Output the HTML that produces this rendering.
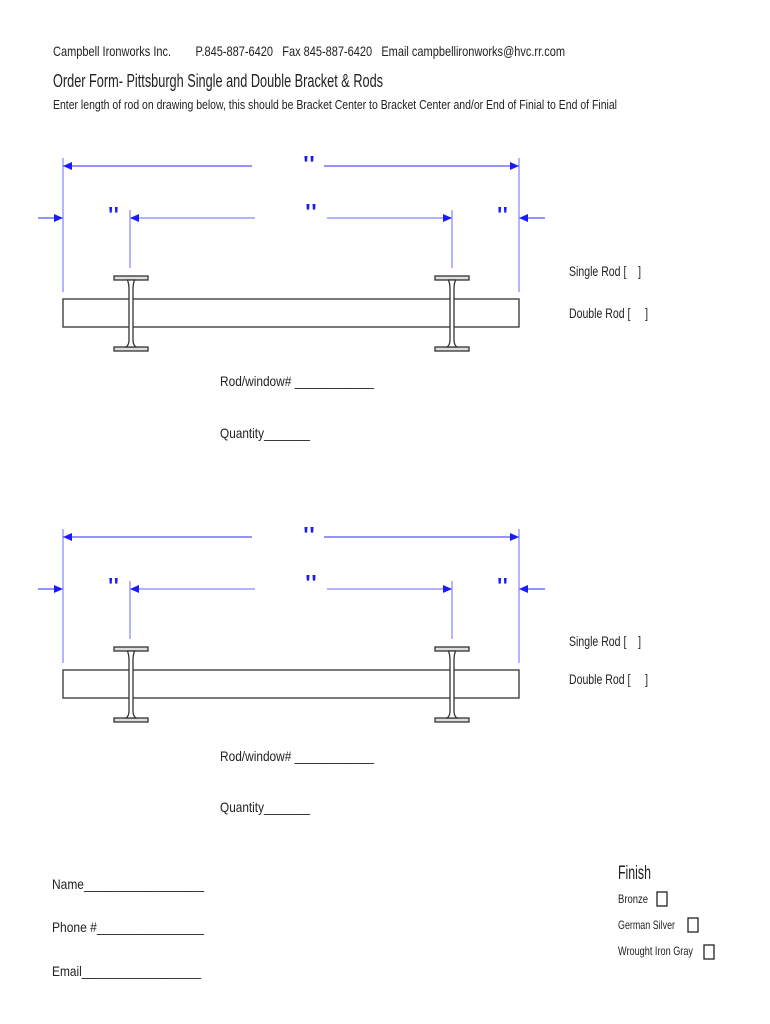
<!DOCTYPE html>
<html><head><meta charset="utf-8"><style>
html,body{margin:0;padding:0;background:#fff;}
svg{display:block;}
text{font-family:"Liberation Sans",sans-serif;fill:#222;white-space:pre;}
.b{fill:#1a1aff;font-size:26px;}
</style></head><body>
<svg width="770" height="1024" viewBox="0 0 770 1024" xmlns="http://www.w3.org/2000/svg" xml:space="preserve">
<defs>
<g id="dia">
  <g stroke="#6a6aff" stroke-width="1" fill="none">
    <line x1="63" y1="158" x2="63" y2="292"/>
    <line x1="519" y1="158" x2="519" y2="292"/>
    <line x1="130" y1="210" x2="130" y2="268"/>
    <line x1="452" y1="210" x2="452" y2="268"/>
    <line x1="63" y1="166" x2="252" y2="166" stroke="#2a2aff"/>
    <line x1="324" y1="166" x2="519" y2="166" stroke="#2a2aff"/>
    <line x1="130" y1="218" x2="255" y2="218" stroke="#9a9aff" stroke-width="1.5"/>
    <line x1="327" y1="218" x2="452" y2="218" stroke="#9a9aff" stroke-width="1.5"/>
    <line x1="38" y1="218" x2="58" y2="218" stroke="#2a2aff"/>
    <line x1="524" y1="218" x2="545" y2="218" stroke="#2a2aff"/>
  </g>
  <g fill="#1a1aff">
    <polygon points="63,166 72,162 72,170"/>
    <polygon points="519,166 510,162 510,170"/>
    <polygon points="130,218 139,214 139,222"/>
    <polygon points="452,218 443,214 443,222"/>
    <polygon points="63,218 54,214 54,222"/>
    <polygon points="519,218 528,214 528,222"/>
  </g>
  <text class="b" x="303" y="174" textLength="12" lengthAdjust="spacingAndGlyphs">"</text>
  <text class="b" x="108" y="225" textLength="11" lengthAdjust="spacingAndGlyphs">"</text>
  <text class="b" x="305" y="222" textLength="12" lengthAdjust="spacingAndGlyphs">"</text>
  <text class="b" x="497" y="225" textLength="11" lengthAdjust="spacingAndGlyphs">"</text>
  <rect x="63" y="299" width="456" height="28" fill="#fff" stroke="#333" stroke-width="1.3"/>
  <g fill="#ddd" stroke="#333" stroke-width="1.3">
    <rect x="114" y="276" width="34" height="4"/>
    <rect x="114" y="347" width="34" height="4"/>
    <path d="M127.5,280 Q129,284 129,288 L129,340 Q129,345 126,347 L136,347 Q133,345 133,340 L133,288 Q133,284 134.5,280 Z" fill="#fff"/>
    <rect x="435" y="276" width="34" height="4"/>
    <rect x="435" y="347" width="34" height="4"/>
    <path d="M448.5,280 Q450,284 450,288 L450,340 Q450,345 447,347 L457,347 Q454,345 454,340 L454,288 Q454,284 455.5,280 Z" fill="#fff"/>
  </g>
</g>
</defs>

<text x="53" y="56" font-size="14" textLength="512" lengthAdjust="spacingAndGlyphs">Campbell Ironworks Inc.        P.845-887-6420   Fax 845-887-6420   Email campbellironworks@hvc.rr.com</text>
<text x="53" y="87" font-size="18" textLength="330" lengthAdjust="spacingAndGlyphs">Order Form- Pittsburgh Single and Double Bracket &amp; Rods</text>
<text x="53" y="109" font-size="13" textLength="564" lengthAdjust="spacingAndGlyphs">Enter length of rod on drawing below, this should be Bracket Center to Bracket Center and/or End of Finial to End of Finial</text>

<use href="#dia"/>
<use href="#dia" transform="translate(0,371)"/>

<g font-size="14">
<text x="569" y="276" textLength="72" lengthAdjust="spacingAndGlyphs">Single Rod [    ]</text>
<text x="569" y="318" textLength="79" lengthAdjust="spacingAndGlyphs">Double Rod [     ]</text>
<text x="220" y="386" textLength="154" lengthAdjust="spacingAndGlyphs">Rod/window# ____________</text>
<text x="220" y="438" textLength="90" lengthAdjust="spacingAndGlyphs">Quantity_______</text>

<text x="569" y="646" textLength="72" lengthAdjust="spacingAndGlyphs">Single Rod [    ]</text>
<text x="569" y="684" textLength="79" lengthAdjust="spacingAndGlyphs">Double Rod [     ]</text>
<text x="220" y="761" textLength="154" lengthAdjust="spacingAndGlyphs">Rod/window# ____________</text>
<text x="220" y="812" textLength="90" lengthAdjust="spacingAndGlyphs">Quantity_______</text>

<text x="52" y="889" textLength="152" lengthAdjust="spacingAndGlyphs">Name__________________</text>
<text x="52" y="932" textLength="152" lengthAdjust="spacingAndGlyphs">Phone #________________</text>
<text x="52" y="976" textLength="149" lengthAdjust="spacingAndGlyphs">Email__________________</text>
</g>

<text x="618" y="879" font-size="19" textLength="33" lengthAdjust="spacingAndGlyphs">Finish</text>
<g font-size="12">
<text x="618" y="903" textLength="30" lengthAdjust="spacingAndGlyphs">Bronze</text>
<text x="618" y="929" textLength="57" lengthAdjust="spacingAndGlyphs">German Silver</text>
<text x="618" y="955" textLength="75" lengthAdjust="spacingAndGlyphs">Wrought Iron Gray</text>
</g>
<g fill="none" stroke="#222" stroke-width="1.3">
<rect x="657" y="892" width="10" height="14"/>
<rect x="688" y="918" width="10" height="14"/>
<rect x="704" y="945" width="10" height="14"/>
</g>
</svg>
</body></html>
